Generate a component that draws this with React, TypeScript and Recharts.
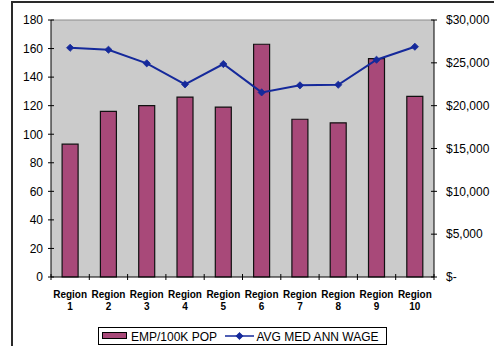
import React from "react";
import {
  ComposedChart,
  Bar,
  Line,
  XAxis,
  YAxis,
  CartesianGrid,
  ReferenceLine,
  Legend,
} from "recharts";

const regions = ["1", "2", "3", "4", "5", "6", "7", "8", "9", "10"];
const empPer100k = [93, 116, 120, 126, 119, 163, 110.5, 108, 153, 126.5];
const avgMedAnnWage = [26760, 26530, 24940, 22490, 24860, 21550, 22370, 22440, 25360, 26880];
const leftTicks = [0, 20, 40, 60, 80, 100, 120, 140, 160, 180];
const rightTicks = [0, 5000, 10000, 15000, 20000, 25000, 30000];

const data = regions.map((r, i) => ({
  region: r,
  emp: empPer100k[i],
  wage: avgMedAnnWage[i],
}));

const W = 494;
const H = 346;
const LEFT_W = 51;
const RIGHT_W = 60;
const BAND_HALF = (W - LEFT_W - RIGHT_W) / regions.length / 2;

const BAR_FILL = "#A84979";
const LINE_COLOR = "#15299B";
const PLOT_BG = "#CBCBCB";
const FONT = "Arial, 'Liberation Sans', sans-serif";

const fmtDollar = (v: number) => (v === 0 ? "$-" : "$" + v.toLocaleString("en-US"));

const Diamond = (props: any) => {
  const { cx, cy } = props;
  if (cx == null || cy == null) return null;
  const r = 3.6;
  return (
    <polygon
      points={`${cx},${cy - r} ${cx + r},${cy} ${cx},${cy + r} ${cx - r},${cy}`}
      fill={LINE_COLOR}
      stroke={LINE_COLOR}
      strokeWidth={0.8}
    />
  );
};

const RegionTick = (props: any) => {
  const { x, y, payload, index } = props;
  const isLast = index === regions.length - 1;
  return (
    <g>
      <line x1={x - BAND_HALF} y1={y - 3} x2={x - BAND_HALF} y2={y + 3} stroke="#000" />
      {isLast && (
        <line x1={x + BAND_HALF} y1={y - 3} x2={x + BAND_HALF} y2={y + 3} stroke="#000" />
      )}
      <text
        x={x}
        y={y}
        textAnchor="middle"
        fontFamily={FONT}
        fontWeight="bold"
        fontSize={10}
        fill="#000"
      >
        <tspan x={x} dy={20.7}>Region</tspan>
        <tspan x={x} dy={12.3}>{payload.value}</tspan>
      </text>
    </g>
  );
};

const LeftTick = (props: any) => {
  const { x, y, payload } = props;
  return (
    <g>
      <line x1={x - 3} y1={y} x2={x + 3} y2={y} stroke="#000" />
      <text x={x - 8} y={y} dy="0.36em" textAnchor="end" fontFamily={FONT} fontSize={12} fill="#000">
        {payload.value}
      </text>
    </g>
  );
};

const RightTick = (props: any) => {
  const { x, y, payload } = props;
  return (
    <g>
      <line x1={x - 3} y1={y} x2={x + 3} y2={y} stroke="#000" />
      <text x={x + 12} y={y} dy="0.36em" textAnchor="start" fontFamily={FONT} fontSize={12} fill="#000">
        {fmtDollar(payload.value)}
      </text>
    </g>
  );
};

const LegendBox = () => (
  <svg width={290} height={18} style={{ display: "block" }}>
    <rect x={0.5} y={0.5} width={288} height={17} fill="#fff" stroke="#000" />
    <rect x={4.5} y={5.5} width={24} height={6} fill={BAR_FILL} stroke="#000" />
    <text x={33} y={13.8} fontFamily={FONT} fontSize={12} fill="#000">
      EMP/100K POP
    </text>
    <line x1={127} y1={9} x2={156} y2={9} stroke={LINE_COLOR} strokeWidth={1.5} />
    <Diamond cx={141.5} cy={9} />
    <text x={158.5} y={13.8} fontFamily={FONT} fontSize={12} fill="#000">
      AVG MED ANN WAGE
    </text>
  </svg>
);

export default function App() {
  return (
    <div
      style={{
        position: "absolute",
        left: 0,
        top: 0,
        width: W,
        height: H,
        overflow: "hidden",
        background: "#fff",
      }}
    >
      <div
        style={{
          position: "absolute",
          left: 11,
          top: 1,
          width: W + 40,
          height: H + 40,
          border: "2px solid #2a2a2a",
          boxSizing: "border-box",
        }}
      />
      <div style={{ position: "absolute", left: 0, top: 0 }}>
        <ComposedChart
          width={W}
          height={H}
          data={data}
          margin={{ top: 20, right: 0, bottom: 0, left: 0 }}
          barCategoryGap="29%"
        >
          <CartesianGrid fill={PLOT_BG} horizontal={false} vertical={false} />
          <XAxis
            dataKey="region"
            xAxisId={0}
            height={69}
            tickLine={false}
            tickSize={0}
            tickMargin={0}
            axisLine={{ stroke: "#000" }}
            interval={0}
            tick={<RegionTick />}
          />
          <YAxis
            yAxisId="left"
            orientation="left"
            width={LEFT_W}
            domain={[0, 180]}
            ticks={leftTicks}
            interval={0}
            tickLine={false}
            tickSize={0}
            tickMargin={0}
            axisLine={{ stroke: "#000" }}
            tick={<LeftTick />}
          />
          <YAxis
            yAxisId="right"
            orientation="right"
            width={RIGHT_W}
            domain={[0, 30000]}
            ticks={rightTicks}
            interval={0}
            tickLine={false}
            tickSize={0}
            tickMargin={0}
            axisLine={{ stroke: "#000" }}
            tick={<RightTick />}
          />
          <ReferenceLine yAxisId="left" y={180} stroke="#8c8c8c" />
          <Bar
            yAxisId="left"
            dataKey="emp"
            name="EMP/100K POP"
            fill={BAR_FILL}
            stroke="#111"
            strokeWidth={1.2}
            isAnimationActive={false}
          />
          <Line
            yAxisId="right"
            dataKey="wage"
            name="AVG MED ANN WAGE"
            type="linear"
            stroke={LINE_COLOR}
            strokeWidth={2}
            dot={<Diamond />}
            activeDot={false}
            isAnimationActive={false}
          />
          <Legend
            layout="horizontal"
            verticalAlign="middle"
            align="center"
            wrapperStyle={{ top: 327, left: 98, width: 290, height: 18 }}
            content={<LegendBox />}
          />
        </ComposedChart>
      </div>
    </div>
  );
}
